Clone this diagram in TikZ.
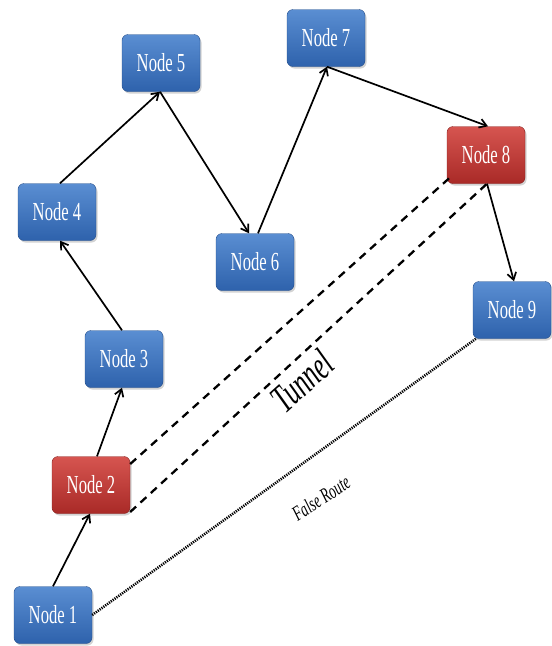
\documentclass[tikz,border=0pt]{standalone}
\usepackage{fontspec}
\setmainfont{Liberation Serif}
\newfontfamily\nodefont[FakeStretch=0.64]{Liberation Serif}
\usetikzlibrary{arrows.meta,shadows}
\definecolor{bluetop}{HTML}{5A8ED2}
\definecolor{bluebot}{HTML}{2E62AC}
\definecolor{redtop}{HTML}{D65550}
\definecolor{redbot}{HTML}{A92A27}
\tikzset{
  netnode/.style={rectangle, rounded corners=6pt, minimum width=78pt, minimum height=57pt,
    text=white, font=\nodefont\fontsize{26}{26}\selectfont, inner sep=0pt,
    drop shadow={shadow xshift=1.5pt, shadow yshift=-2pt, opacity=0.35}},
  bluenode/.style={netnode, top color=bluetop, bottom color=bluebot, draw=bluebot!80!black, line width=0.4pt},
  rednode/.style={netnode, top color=redtop, bottom color=redbot, draw=redbot!80!black, line width=0.4pt},
  hop/.style={line width=1.7pt, -{Straight Barb[length=7pt,width=9pt,line width=1.7pt]}},
  tunnelline/.style={line width=2.3pt, dash pattern=on 8pt off 6pt},
  falseline/.style={line width=2.6pt, dash pattern=on 1.2pt off 1.1pt},
}
\begin{document}
\begin{tikzpicture}[x=1pt,y=-1pt]
\useasboundingbox (0,0) rectangle (552,646);
\node[bluenode] (n1) at (53,615) {Node 1};
\node[rednode]  (n2) at (91,485) {Node 2};
\node[bluenode] (n3) at (124,359) {Node 3};
\node[bluenode] (n4) at (57,212) {Node 4};
\node[bluenode] (n5) at (161,63) {Node 5};
\node[bluenode] (n6) at (255,262) {Node 6};
\node[bluenode] (n7) at (326,38) {Node 7};
\node[rednode]  (n8) at (486,155) {Node 8};
\node[bluenode] (n9) at (512,310) {Node 9};

\coordinate (t2a) at ([yshift=21pt]n2.east);
\coordinate (t2b) at ([yshift=-27pt]n2.east);
\coordinate (t8a) at ([xshift=-34pt,yshift=8pt]n8.south);
\coordinate (t8b) at ([xshift=1pt]n8.south);

\draw[hop] (n1.north) -- ([xshift=-1pt]n2.south);
\draw[hop] ([xshift=6pt]n2.north) -- ([xshift=-2pt]n3.south);
\draw[hop] ([xshift=-2pt]n3.north) -- ([xshift=3pt]n4.south);
\draw[hop] ([xshift=3pt]n4.north) -- ([xshift=-1pt]n5.south);
\draw[hop] ([xshift=-1pt]n5.south) -- ([xshift=-6pt]n6.north);
\draw[hop] ([xshift=3pt]n6.north) -- ([xshift=1pt]n7.south);
\draw[hop] ([xshift=1pt]n7.south) -- ([xshift=2pt]n8.north);
\draw[hop] ([xshift=1pt]n8.south) -- ([xshift=2pt]n9.north);

\draw[tunnelline] (t2a) -- (t8a);
\draw[tunnelline] (t2b) -- (t8b);
\draw[falseline] (n1.east) -- ([xshift=-36pt]n9.south);

\node[font=\nodefont\itshape\fontsize{40}{40}\selectfont, rotate=42] (tl) at (302,381) {Tunnel};
\node[font=\nodefont\itshape\fontsize{21}{21}\selectfont, rotate=33] (fl) at (321,498) {False Route};
\end{tikzpicture}
\end{document}
